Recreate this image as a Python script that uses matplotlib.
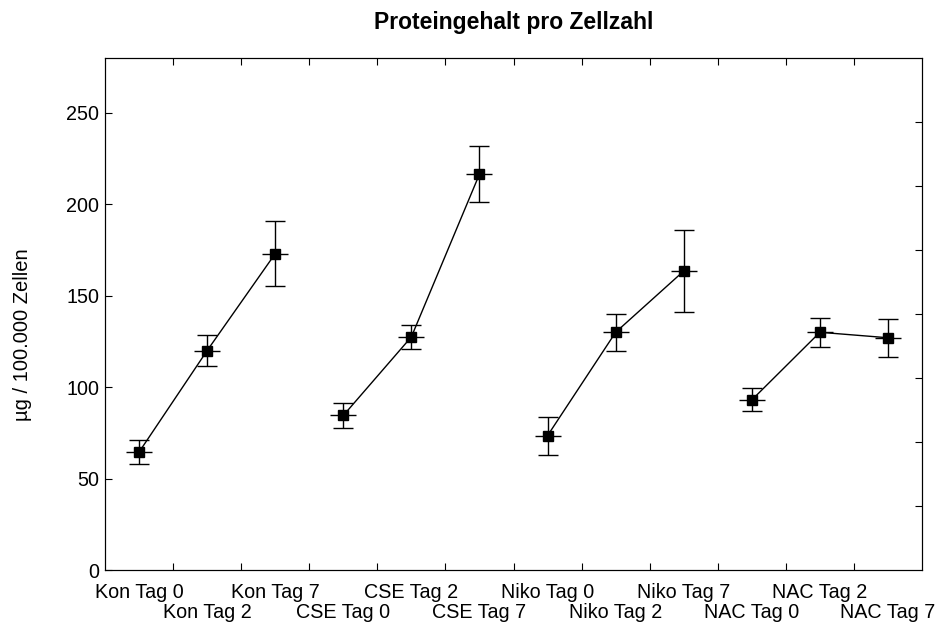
import matplotlib
matplotlib.use("Agg")
import matplotlib.pyplot as plt
import numpy as np

plt.rcParams['font.family'] = ['Liberation Sans', 'DejaVu Sans']

labels = ["Kon Tag 0", "Kon Tag 2", "Kon Tag 7",
          "CSE Tag 0", "CSE Tag 2", "CSE Tag 7",
          "Niko Tag 0", "Niko Tag 2", "Niko Tag 7",
          "NAC Tag 0", "NAC Tag 2", "NAC Tag 7"]
means = [64.5, 120.0, 173.0,
         84.5, 127.5, 216.5,
         73.5, 130.0, 163.5,
         93.0, 130.0, 127.0]
errors = [6.8, 8.7, 17.7,
          7.0, 6.5, 15.2,
          10.4, 10.0, 22.3,
          6.3, 8.0, 10.5]
groups = [[0, 1, 2], [3, 4, 5], [6, 7, 8], [9, 10, 11]]

fig = plt.figure(figsize=(9.42, 6.22), dpi=100)
ax = fig.add_axes([0.1115, 0.0836, 0.8673, 0.8232])

x = np.arange(len(labels))
m = np.array(means)
e = np.array(errors)

for g in groups:
    ax.plot(x[g], m[g], color='black', lw=1.0, zorder=2)

ax.errorbar(x, m, yerr=e, fmt='none', ecolor='black', elinewidth=1.0,
            capsize=7.5, capthick=1.0, zorder=3)
ax.plot(x, m, ls='none', marker='_', markersize=19, mew=1.0, color='black', zorder=3)
ax.plot(x, m, ls='none', marker='s', markersize=7.5, color='black', zorder=4)

ax.set_xlim(-0.5, len(labels) - 0.5)
ax.set_ylim(0, 280)

# boundary ticks (no labels), category labels staggered on two rows
ax.set_xticks(np.arange(0.5, len(labels) - 0.5, 1.0))
ax.set_xticklabels([])
ax.set_xticks(x, minor=True)
ax.set_xticklabels(labels, minor=True, fontsize=14.2)
ax.tick_params(axis='x', which='minor', length=0, pad=9)
for i, t in enumerate(ax.xaxis.get_minor_ticks()):
    if i % 2 == 1:
        t.set_pad(24)
ax.tick_params(axis='x', which='major', direction='in', length=5, top=True, width=0.8)

ax.set_yticks(np.arange(0, 251, 50))
ax.tick_params(axis='y', direction='in', length=5, width=0.8, labelsize=14.2, pad=4)

ax2 = ax.twinx()
ax2.set_ylim(0, 280)
ax2.set_yticks(np.arange(35, 250, 35))
ax2.set_yticklabels([])
ax2.tick_params(axis='y', direction='in', length=5, width=0.8)

ax.set_ylabel("µg / 100.000 Zellen", fontsize=14.5)
ax.yaxis.set_label_coords(-0.09, 0.46)
ax.set_title("Proteingehalt pro Zellzahl", fontsize=16.5, fontweight='bold', pad=21)

fig.savefig("out.png", dpi=100)
